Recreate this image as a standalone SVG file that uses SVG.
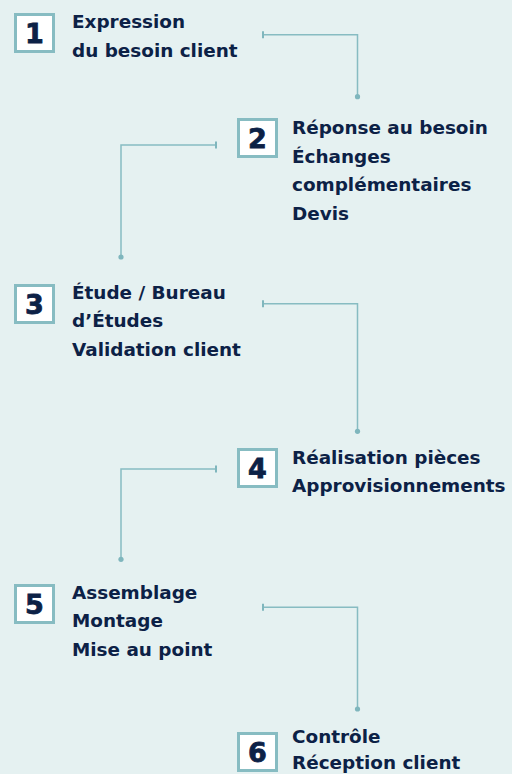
<svg xmlns="http://www.w3.org/2000/svg" width="512" height="774" viewBox="0 0 512 774">
<style>
.bg{fill:#e5f1f1}
.box{fill:#ffffff;stroke:#87bcc2;stroke-width:3}
.num{font-family:"DejaVu Sans",sans-serif;font-weight:700;font-size:27px;fill:#0c2146;text-anchor:middle;stroke:#0c2146;stroke-width:0.8}
.lbl{font-family:"DejaVu Sans",sans-serif;font-weight:700;font-size:18.4px;fill:#0c2146}
.ln{fill:none;stroke:#87bcc2;stroke-width:1.5}
.tick{stroke:#7fb6bd;stroke-width:2}
.dot{fill:#7fb6bd}
</style>
<rect class="bg" x="0" y="0" width="512" height="774"/>
<g id="connectors">
<g id="c1"><path class="ln" d="M263 34.7H357.5V96.7"/><line class="tick" x1="263" y1="31.2" x2="263" y2="38.2"/><circle class="dot" cx="357.5" cy="96.7" r="2.6"/></g>
<g id="c2"><path class="ln" d="M216 145H121V257"/><line class="tick" x1="216" y1="141.5" x2="216" y2="148.5"/><circle class="dot" cx="121" cy="257" r="2.6"/></g>
<g id="c3"><path class="ln" d="M263 303.7H357.5V431.3"/><line class="tick" x1="263" y1="300.2" x2="263" y2="307.2"/><circle class="dot" cx="357.5" cy="431.3" r="2.6"/></g>
<g id="c4"><path class="ln" d="M216 469H121V559.3"/><line class="tick" x1="216" y1="465.5" x2="216" y2="472.5"/><circle class="dot" cx="121" cy="559.3" r="2.6"/></g>
<g id="c5"><path class="ln" d="M263 607.3H357.5V709"/><line class="tick" x1="263" y1="603.8" x2="263" y2="610.8"/><circle class="dot" cx="357.5" cy="709" r="2.6"/></g>
</g>
<g id="n1"><rect class="box" x="15.5" y="14.5" width="38" height="37"/><text class="num" x="34.5" y="43">1</text>
<text class="lbl" x="72" y="28">Expression</text><text class="lbl" x="72" y="56.5">du besoin client</text></g>
<g id="n2"><rect class="box" x="238.5" y="119.5" width="38" height="37"/><text class="num" x="257.5" y="148">2</text>
<text class="lbl" x="292" y="134">Réponse au besoin</text><text class="lbl" x="292" y="162.5">Échanges</text><text class="lbl" x="292" y="191">complémentaires</text><text class="lbl" x="292" y="219.5">Devis</text></g>
<g id="n3"><rect class="box" x="15.5" y="285.5" width="38" height="37"/><text class="num" x="34.5" y="314">3</text>
<text class="lbl" x="72" y="298.5">Étude / Bureau</text><text class="lbl" x="72" y="327">d’Études</text><text class="lbl" x="72" y="355.5">Validation client</text></g>
<g id="n4"><rect class="box" x="238.5" y="449.5" width="38" height="37"/><text class="num" x="257.5" y="478">4</text>
<text class="lbl" x="292" y="463.5">Réalisation pièces</text><text class="lbl" x="292" y="492">Approvisionnements</text></g>
<g id="n5"><rect class="box" x="15.5" y="585.5" width="38" height="37"/><text class="num" x="34.5" y="614">5</text>
<text class="lbl" x="72" y="598.5">Assemblage</text><text class="lbl" x="72" y="627">Montage</text><text class="lbl" x="72" y="655.5">Mise au point</text></g>
<g id="n6"><rect class="box" x="238.5" y="733.5" width="38" height="37"/><text class="num" x="257.5" y="762">6</text>
<text class="lbl" x="292" y="742.5">Contrôle</text><text class="lbl" x="292" y="769">Réception client</text></g>
</svg>
